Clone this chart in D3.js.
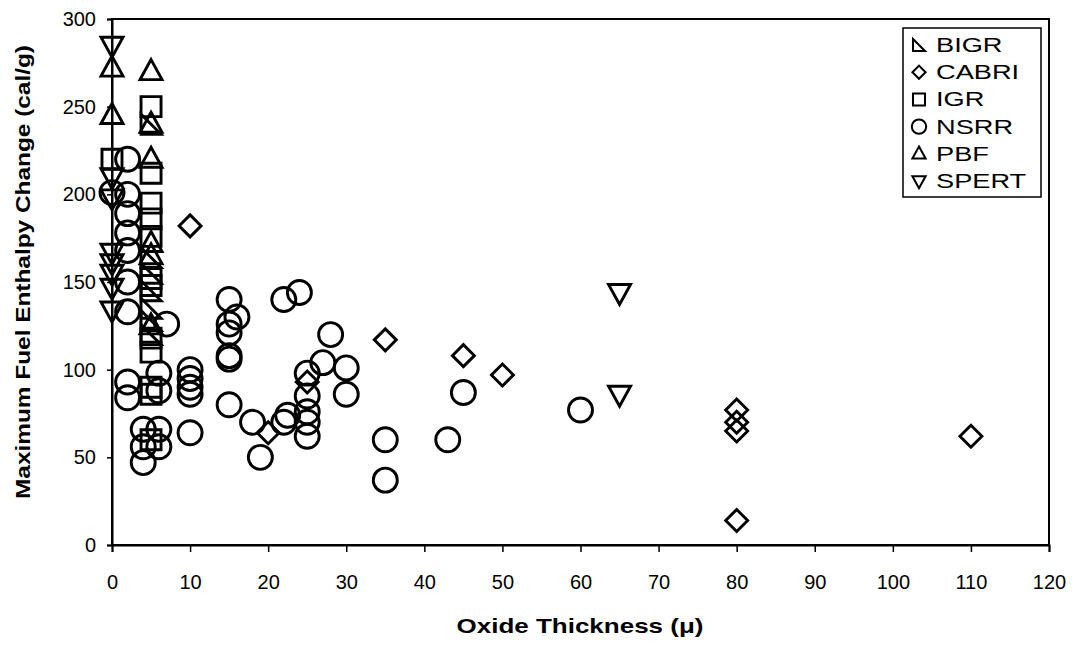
<!DOCTYPE html>
<html><head><meta charset="utf-8">
<script src="https://cdn.jsdelivr.net/npm/d3@7"></script>
<style>
body{margin:0;background:#fff;}
svg{display:block;font-family:Arial,"Liberation Sans",sans-serif;}
</style></head>
<body><svg id="c" width="1077" height="649"></svg>
<script>
// ---- data ----
const xTicks = [0,10,20,30,40,50,60,70,80,90,100,110,120];
const yTicks = [0,50,100,150,200,250,300];
const seriesNames = ["BIGR","CABRI","IGR","NSRR","PBF","SPERT"];
const bigrX = [5,5,5,5,5,5,5];
const bigrY = [240,164,155,145,135,128,120];
const cabriX = [10,20,25,35,45,50,80,80,80,80,110];
const cabriY = [182,64,93,117,108,97,77,70,65,14,62];
const igrX = [0,5,5,5,5,5,5,5,5,5,5,5,5];
const igrY = [220,250,212,195,186,176,152,148,118,110,90,86,60];
const nsrrX = [0,2,2,2,2,2,2,2,2,2,4,4,4,6,6,6,6,7,10,10,10,10,10,15,16,15,15,15,15,15,18,19,22,22.5,22,24,25,25,25,25,25,27,28,30,30,35,35,43,45,60];
const nsrrY = [201,220,200,189,178,168,150,133,93,84,66,56,47,98,88,66,56,126,100,95,90,86,64,140,130,126,121,108,106,80,70,50,70,74,140,144,98,85,76,70,62,104,120,101,86,60,37,60,87,77];
const pbfX = [0,0,5,5,5,5,5,5];
const pbfY = [272,245,270,240,220,172,165,125];
const spertX = [0,0,0,0,0,0,0,0,65,65];
const spertY = [285,210,198,167,161,155,147,134,144,86];

// ---- layout ----
const L=112, R=1049, T=19, B=545;
const svg = d3.select("#c");
const x = d3.scaleLinear().domain([0,120]).range([L,R]);
const y = d3.scaleLinear().domain([0,300]).range([B,T]);

const shapes = {
  BIGR: "M-10,-10L-10,10L10,10Z",
  CABRI: "M0,-11L11,0L0,11L-11,0Z",
  IGR: "M-10,-10L10,-10L10,10L-10,10Z",
  NSRR: d3.arc()({innerRadius:0,outerRadius:12,startAngle:0,endAngle:2*Math.PI}),
  PBF: "M0,-12L11,8L-11,8Z",
  SPERT: "M0,12L11,-8L-11,-8Z"
};
const data = {
  BIGR: d3.zip(bigrX,bigrY), CABRI: d3.zip(cabriX,cabriY), IGR: d3.zip(igrX,igrY),
  NSRR: d3.zip(nsrrX,nsrrY), PBF: d3.zip(pbfX,pbfY), SPERT: d3.zip(spertX,spertY)
};

// plot frame
svg.append("rect").attr("x",L).attr("y",T).attr("width",R-L).attr("height",B-T)
  .attr("fill","none").attr("stroke","#000").attr("stroke-width",2);

// axes
const xa = svg.append("g").attr("transform",`translate(0,${B})`)
  .call(d3.axisBottom(x).tickValues(xTicks).tickSize(7).tickPadding(23).tickFormat(d3.format("d")));
const ya = svg.append("g").attr("transform",`translate(${L},0)`)
  .call(d3.axisLeft(y).tickValues(yTicks).tickSize(5).tickPadding(11).tickFormat(d3.format("d")));
[xa,ya].forEach(a=>{
  a.select(".domain").attr("stroke","#000").attr("stroke-width",2);
  a.selectAll(".tick line").attr("stroke","#000").attr("stroke-width",1.5);
  a.selectAll(".tick text").attr("fill","#000").attr("font-size",20).attr("font-family","Arial, 'Liberation Sans', sans-serif");
});

// markers
seriesNames.forEach(n=>{
  svg.append("g").selectAll("path").data(data[n]).join("path")
    .attr("d",shapes[n])
    .attr("transform",d=>`translate(${x(d[0])},${y(d[1])})`)
    .attr("fill","none").attr("stroke","#000").attr("stroke-width",2.9)
    .attr("stroke-linejoin","miter");
});

// axis titles (glyphs in the reference are horizontally stretched)
svg.append("text").attr("transform","translate(580,633) scale(1.3,1)").attr("text-anchor","middle")
  .attr("font-size",20).attr("font-weight","bold").text("Oxide Thickness (μ)");
svg.append("text").attr("transform",`translate(30,272) rotate(-90) scale(1.22,1)`).attr("text-anchor","middle")
  .attr("font-size",20).attr("font-weight","bold").text("Maximum Fuel Enthalpy Change (cal/g)");

// legend
const lg = svg.append("g");
lg.append("rect").attr("x",903).attr("y",28).attr("width",138).attr("height",169)
  .attr("fill","#fff").attr("stroke","#000").attr("stroke-width",1.5);
seriesNames.forEach((n,i)=>{
  const cy = 45 + i*27.2;
  lg.append("path").attr("d",shapes[n]).attr("transform",`translate(919,${cy}) scale(0.6)`)
    .attr("fill","none").attr("stroke","#000").attr("stroke-width",3.4);
  lg.append("text").attr("transform",`translate(936,${cy+7}) scale(1.36,1)`).attr("font-size",20).text(n);
});
</script></body></html>
